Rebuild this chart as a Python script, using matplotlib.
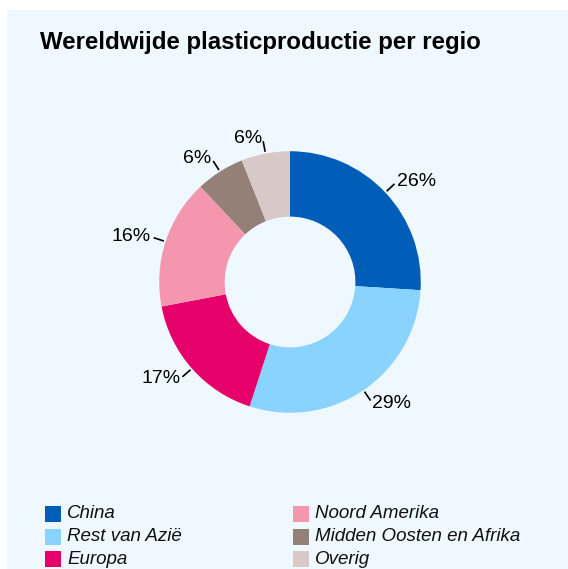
import numpy as np
import matplotlib.pyplot as plt
from matplotlib.patches import Rectangle

plt.rcParams['font.family'] = ['Liberation Sans', 'DejaVu Sans']

regions = ['China', 'Rest van Azië', 'Europa', 'Noord Amerika',
           'Midden Oosten en Afrika', 'Overig']
shares = [26, 29, 17, 16, 6, 6]
colors = ['#005eb8', '#8bd3ff', '#e5006a', '#f497ae', '#958078', '#d8c8c7']

W, H = 568, 569
fig = plt.figure(figsize=(W / 100, H / 100), dpi=100)
fig.patch.set_facecolor('white')
fig.patches.append(Rectangle((7 / W, 0), 1 - 7 / W, 1 - 10 / H,
                             transform=fig.transFigure, facecolor='#eef8fe',
                             edgecolor='none', zorder=-5))

fig.text(40 / W, 1 - 42 / H, 'Wereldwijde plasticproductie per regio',
         fontsize=17.3, fontweight='bold', ha='left', va='center')

# donut, centre at (290, 282) px, outer radius ~131 px
cx, cy, half = 290, 282, 170
ax = fig.add_axes([(cx - half) / W, (H - cy - half) / H, 2 * half / W, 2 * half / H])

wedges, _ = ax.pie(shares, colors=colors, startangle=90, counterclock=False,
                   radius=1.0, wedgeprops=dict(width=0.5, linewidth=0))
ax.set_xlim(-1.3, 1.3)
ax.set_ylim(-1.3, 1.3)
ax.set_aspect('equal')
ax.axis('off')

for w, v in zip(wedges, shares):
    ang = np.deg2rad((w.theta1 + w.theta2) / 2)
    c, s = np.cos(ang), np.sin(ang)
    ax.plot([1.02 * c, 1.09 * c], [1.02 * s, 1.09 * s], color='black', lw=1.2)
    ax.text(1.12 * c, 1.12 * s, f'{v}%', fontsize=14,
            ha='left' if c > 0 else 'right', va='center')

# legend, two columns of three
for i, (name, col) in enumerate(zip(regions, colors)):
    x0 = 45 if i < 3 else 293
    y0 = 514 + 22.5 * (i % 3)
    fig.patches.append(Rectangle((x0 / W, 1 - (y0 + 8) / H), 16 / W, 16 / H,
                                 transform=fig.transFigure, facecolor=col,
                                 edgecolor='none'))
    fig.text((x0 + 22) / W, 1 - y0 / H, name, fontsize=13.5, style='italic',
             ha='left', va='center', color='#111111')

fig.savefig('out.png', dpi=100)
